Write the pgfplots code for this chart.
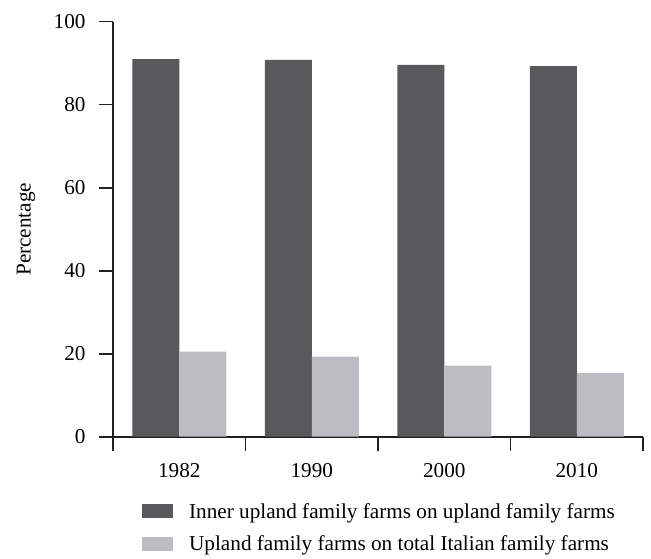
\documentclass[border=0pt]{standalone}
\usepackage{fontspec}
\setmainfont{Liberation Serif}
\usepackage{pgfplots}
\pgfplotsset{compat=1.18}
\definecolor{darkbar}{HTML}{58595B}
\definecolor{lightbar}{HTML}{BCBDC0}
\definecolor{axiscol}{HTML}{231F20}
\newcommand{\chfont}{\fontsize{21.2bp}{24.5bp}\selectfont}
\begin{document}
\begin{tikzpicture}
\begin{axis}[
  width=530bp, height=415bp, scale only axis,
  ybar=0pt, bar width=47bp,
  xmin=-0.5, xmax=3.5, ymin=0, ymax=100,
  xtick={-0.5,0.5,1.5,2.5,3.5},
  x tick label as interval,
  xticklabels={1982,1990,2000,2010},
  ytick={0,20,40,60,80,100},
  axis x line*=bottom, axis y line*=left,
  tick align=outside,
  major tick length=14bp,
  axis line style={line width=1.6bp, color=axiscol},
  every tick/.style={line width=1.6bp, color=axiscol},
  /pgf/number format/assume math mode=true,
  tick label style={font=\chfont},
  yticklabel style={xshift=-10bp},
  xticklabel style={yshift=-9bp},
  ylabel={Percentage},
  ylabel style={font=\chfont, at={(axis description cs:-0.164,0.5)}, anchor=center, rotate=0},
  legend style={draw=none, fill=none, font=\chfont,
    at={(axis description cs:0.0547,-0.155)}, anchor=north west,
    row sep=12bp, inner sep=0pt,
    /tikz/every odd column/.append style={column sep=14bp}},
  legend cell align=left,
]
\addplot[fill=darkbar, draw=none,
  legend image code/.code={\fill[darkbar] (0bp,-7bp) rectangle (31bp,7bp);}]
  coordinates {(0,91.0) (1,90.8) (2,89.6) (3,89.3)};
\addlegendentry{Inner upland family farms on upland family farms}
\addplot[fill=lightbar, draw=none,
  legend image code/.code={\fill[lightbar] (0bp,-7bp) rectangle (31bp,7bp);}]
  coordinates {(0,20.5) (1,19.3) (2,17.1) (3,15.4)};
\addlegendentry{Upland family farms on total Italian family farms}
\end{axis}
\path ([xshift=-113bp,yshift=-121.3bp]current axis.south west) rectangle ([xshift=8bp,yshift=21.7bp]current axis.north east);
\end{tikzpicture}
\end{document}
